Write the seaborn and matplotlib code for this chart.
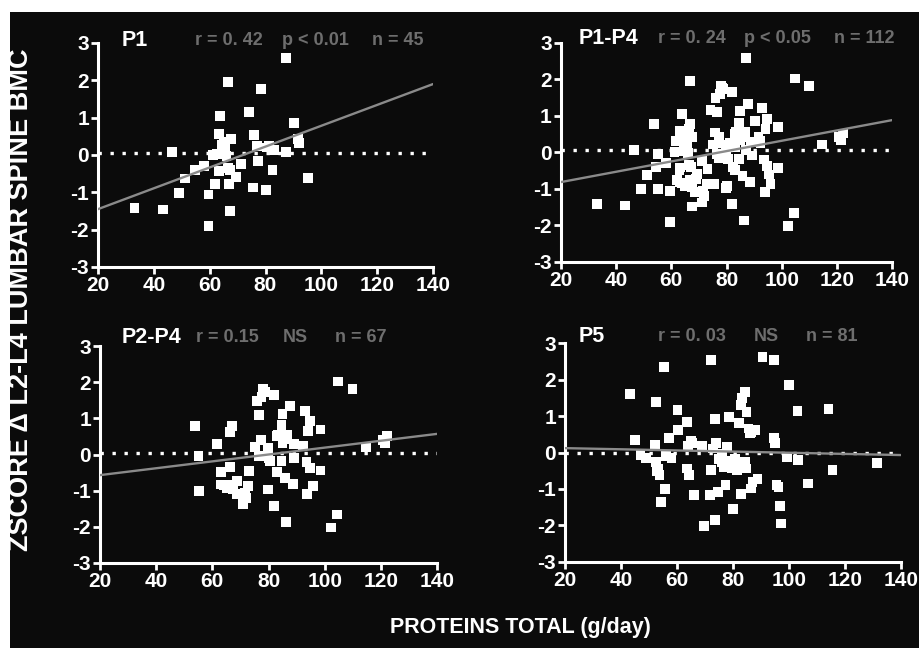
import numpy as np
import pandas as pd
import matplotlib
matplotlib.use("Agg")
import matplotlib.pyplot as plt
from matplotlib.patches import Rectangle
import seaborn as sns

# ---------------- data ----------------
p1_x = [33.1, 43.3, 46.5, 49.0, 51.3, 54.6, 58.0, 59.6, 59.6, 61.2, 62.0, 63.3, 63.8, 63.3, 65.0,
        65.7, 66.0, 66.7, 66.9, 67.2, 67.4, 67.6, 69.3, 71.2, 74.2, 75.5, 75.9, 77.1, 77.3, 78.3,
        80.2, 81.3, 82.5, 83.0, 87.2, 87.2, 90.3, 91.6, 92.0, 95.3, 64.5, 65.5, 62.5, 80.5, 66.5]
p1_y = [-1.41, -1.46, 0.07, -1.01, -0.63, -0.41, -0.29, -1.06, -1.91, 0.00, -0.77, 0.57, 1.04, -0.42, 0.36,
        0.18, -0.02, 1.95, -0.77, -0.41, -1.49, 0.42, -0.60, -0.25, 1.16, -0.87, 0.54, 0.25, -0.15, 1.77,
        -0.93, 0.25, -0.41, 0.14, 2.59, 0.07, 0.86, 0.43, 0.32, -0.61, 0.27, 0.08, 0.02, 0.20, -0.35]

p24_x = [53.8, 55.1, 55.3, 61.8, 63.0, 63.0, 65.1, 66.3, 66.3, 66.9, 66.3, 68.7, 68.9, 71.0, 72.0,
         72.8, 73.1, 75.2, 76.0, 76.7, 76.7, 77.2, 78.1, 78.7, 79.9, 79.9, 80.5, 81.9, 81.9, 82.9,
         83.1, 84.6, 84.6, 85.0, 85.0, 85.8, 86.2, 86.6, 87.8, 88.6, 89.0, 89.1, 92.3, 92.9, 93.8,
         94.1, 94.7, 94.7, 95.9, 98.5, 98.5, 102.4, 104.5, 104.8, 109.9, 114.7, 120.8, 122.3, 121.5,
         71.5, 67.5, 64.0, 77.5, 85.5, 83.5, 93.5, 80.0]
p24_y = [0.78, -0.05, -1.01, 0.30, -0.48, -0.83, -0.92, -0.34, 0.63, 0.78, -0.83, -1.10, -0.74, -1.38, -1.20,
         -0.87, -0.46, 0.21, 1.49, 1.10, -0.05, 0.41, 1.82, 1.73, 0.18, -0.97, -0.18, 1.64, -1.43, 0.51,
         -0.48, -0.18, 0.81, 1.12, 0.32, -0.66, -1.87, 0.55, 1.33, -0.81, 0.28, -0.09, 0.25, 1.21, -1.10,
         0.64, 0.92, -0.37, -0.87, -0.44, 0.69, -2.02, -1.66, 2.02, 1.82, 0.21, 0.41, 0.51, 0.32,
         -1.05, -0.95, -0.85, 1.60, 0.42, 0.55, -0.20, -0.10]

p5_x = [43.1, 45.0, 47.0, 49.1, 52.2, 52.4, 52.6, 53.3, 53.8, 54.2, 55.4, 55.8, 56.2, 57.2, 58.1,
        60.2, 60.5, 63.5, 63.7, 64.3, 64.1, 64.9, 65.5, 66.1, 68.9, 69.7, 71.9, 72.1, 72.1, 72.9,
        73.6, 73.6, 73.9, 74.8, 75.1, 76.0, 76.9, 77.4, 78.0, 78.6, 78.8, 79.8, 80.0, 80.8, 81.6,
        82.2, 82.8, 82.8, 83.4, 84.4, 84.4, 84.9, 84.9, 85.6, 86.0, 86.4, 87.0, 88.0, 88.8, 90.6,
        94.8, 94.8, 95.2, 95.6, 96.3, 96.8, 97.2, 99.3, 100.1, 103.1, 103.4, 107.0, 114.2, 115.6, 131.5,
        77.0, 79.0, 76.0, 81.0, 53.0, 86.5]
p5_y = [1.60, 0.34, -0.07, -0.15, 0.20, 1.39, -0.26, -0.44, -0.62, -1.36, 2.36, -1.01, -0.09, 0.39, -0.15,
        1.17, 0.61, 0.84, -0.44, -0.62, 0.18, 0.31, 0.25, -1.16, 0.18, -2.02, -1.17, -0.49, 2.54, 0.11,
        0.92, -1.86, 0.25, -1.08, -0.17, -0.26, -0.39, -0.90, 0.16, 0.98, -0.24, -0.44, -1.56, -0.17, -0.49,
        0.80, -1.13, 1.30, 1.50, 1.67, -0.26, 1.12, -0.44, 0.66, 0.52, -0.99, -0.81, 0.61, -0.72, 2.63,
        2.54, 0.39, 0.25, -0.90, -0.94, -1.47, -1.95, -0.12, 1.85, 1.14, -0.21, -0.85, 1.19, -0.49, -0.28,
        -0.30, -0.35, -0.05, -0.30, -0.50, 0.55]

panel_names = ["P1", "P1-P4", "P2-P4", "P5"]
stat_r = ["r = 0. 42", "r = 0. 24", "r = 0.15", "r = 0. 03"]
stat_p = ["p < 0.01", "p < 0.05", "NS", "NS"]
stat_n = ["n = 45", "n = 112", "n = 67", "n = 81"]
# fitted regression line end values at x = 20 and x = 140
fit_x = [20, 140]
fit_y = [[-1.45, 1.90], [-0.82, 0.88], [-0.57, 0.57], [0.12, -0.07]]
ref_y = [0.05, 0.05, 0.05, 0.0]
x_ticks = [20, 40, 60, 80, 100, 120, 140]
y_ticks = [-3, -2, -1, 0, 1, 2, 3]

panel_data = [
    (p1_x, p1_y),
    (p1_x + p24_x, p1_y + p24_y),
    (p24_x, p24_y),
    (p5_x, p5_y),
]

# ---------------- style ----------------
sns.set_theme(style="dark")
plt.rcParams["font.family"] = ["Liberation Sans", "DejaVu Sans"]
plt.rcParams["axes.unicode_minus"] = False

W, H = 919, 648
BG = "#0b0b0b"
fig = plt.figure(figsize=(W / 100, H / 100), dpi=100)
fig.patch.set_facecolor(BG)
# white paper margins (top and left)
fig.patches.append(Rectangle((0, 1 - 12 / H), 1, 12 / H, transform=fig.transFigure,
                             facecolor="white", edgecolor="none"))
fig.patches.append(Rectangle((0, 0), 10 / W, 1, transform=fig.transFigure,
                             facecolor="white", edgecolor="none"))

# axes boxes in pixels: left, right, top, bottom
boxes = [(98, 433, 43, 267), (560.7, 892.3, 42.7, 261.7), (100, 437, 346, 563), (565, 900.7, 343.3, 561.7)]
title_pos = [
    (0.072, 0.290, 0.549, 0.818, 1.013),
    (0.055, 0.293, 0.553, 0.824, 1.017),
    (0.065, 0.285, 0.543, 0.697, 1.037),
    (0.042, 0.277, 0.563, 0.718, 1.032),
]

stat_color = "#6e6e6e"
for i, (l, r, t, b) in enumerate(boxes):
    ax = fig.add_axes([l / W, 1 - b / H, (r - l) / W, (b - t) / H])
    ax.set_facecolor(BG)
    xs, ys = panel_data[i]
    df = pd.DataFrame({"x": xs, "y": ys})
    sns.scatterplot(data=df, x="x", y="y", ax=ax, marker="s", s=50, color="white",
                    edgecolor="none", linewidth=0, zorder=3, clip_on=False)
    # dotted zero reference
    ref = pd.DataFrame({"x": fit_x, "y": [ref_y[i], ref_y[i]]})
    sns.lineplot(data=ref, x="x", y="y", ax=ax, color="white", linewidth=2.4,
                 linestyle=(0, (1, 2.6)), zorder=2)
    fit = pd.DataFrame({"x": fit_x, "y": fit_y[i]})
    sns.lineplot(data=fit, x="x", y="y", ax=ax, color="#8a8a8a", linewidth=1.7, zorder=4)

    ax.set_xlim(20, 140)
    ax.set_ylim(-3, 3)
    ax.set_xticks(x_ticks)
    ax.set_yticks(y_ticks)
    ax.set_xticklabels([str(v) for v in x_ticks])
    ax.set_yticklabels([str(v) for v in y_ticks])
    ax.set_xlabel("")
    ax.set_ylabel("")
    ax.grid(False)
    for side in ["top", "right"]:
        ax.spines[side].set_visible(False)
    for side in ["left", "bottom"]:
        ax.spines[side].set_visible(True)
        ax.spines[side].set_color("white")
        ax.spines[side].set_linewidth(2.2)
    ax.tick_params(axis="both", which="major", direction="out", length=5, width=2,
                   color="white", labelcolor="white", labelsize=15, pad=1.5,
                   bottom=True, left=True)
    for lab in ax.get_xticklabels() + ax.get_yticklabels():
        lab.set_fontweight("bold")

    tx, rx, px, nx, ty = title_pos[i]
    ax.text(tx, ty, panel_names[i], transform=ax.transAxes, color="white", fontsize=15.5,
            fontweight="bold", ha="left", va="center")
    ax.text(rx, ty, stat_r[i], transform=ax.transAxes, color=stat_color, fontsize=13,
            fontweight="bold", ha="left", va="center")
    ax.text(px, ty, stat_p[i], transform=ax.transAxes, color=stat_color, fontsize=13,
            fontweight="bold", ha="left", va="center")
    ax.text(nx, ty, stat_n[i], transform=ax.transAxes, color=stat_color, fontsize=13,
            fontweight="bold", ha="left", va="center")

fig.text(21 / W, 1 - 300 / H, "ZSCORE Δ L2-L4 LUMBAR SPINE BMC", rotation=90, color="white",
         fontsize=19.5, fontweight="bold", ha="center", va="center")
fig.text(520 / W, 1 - 628 / H, "PROTEINS TOTAL (g/day)", color="white", fontsize=15.5,
         fontweight="bold", ha="center", va="center")

fig.savefig("out.png", dpi=100, facecolor=BG)
